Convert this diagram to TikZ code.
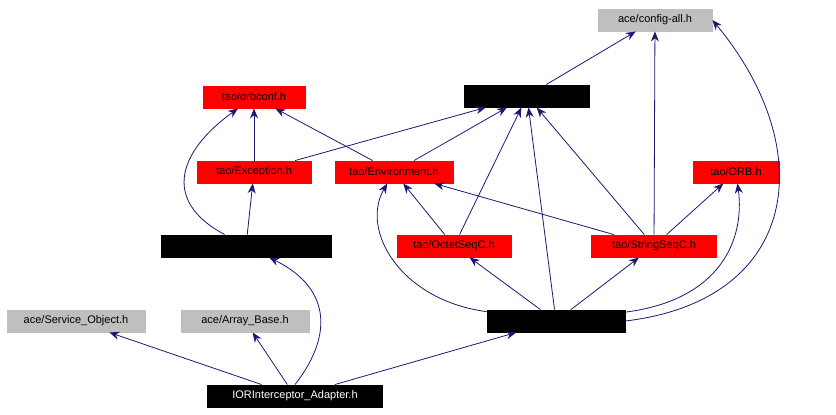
\documentclass[tikz,border=0pt]{standalone}
\usepackage{fontspec}
\setmainfont{Liberation Sans}
\usetikzlibrary{arrows.meta}
\definecolor{edgeblue}{HTML}{191970}
\definecolor{boxgray}{HTML}{BFBFBF}
\definecolor{boxred}{rgb}{1,0,0}
\tikzset{
  box/.style={draw, rectangle, inner sep=0pt, line width=0.9pt, minimum height=22pt, font=\fontsize{11}{13}\selectfont, fill=white},
  redbox/.style={box, color=boxred, draw=boxred, text=black},
  blackbox/.style={box, color=black, draw=black, text=black},
  graybox/.style={box, color=boxgray, draw=boxgray, text=black},
  dep/.style={draw=edgeblue, color=edgeblue, line width=0.8pt, -{Stealth[length=10pt,width=8pt]}}
}
\begin{document}
\begin{tikzpicture}[x=1pt,y=-1pt]
\useasboundingbox (0,0) rectangle (836,415);
\node[graybox, minimum width=114pt] (cfg) at (655,20) {ace/config-all.h};
\node[blackbox, minimum width=125pt] (tao) at (527,96) {tao/TAO\_Export.h};
\node[redbox, minimum width=102pt] (orbconf) at (254,97) {tao/orbconf.h};
\node[redbox, minimum width=114pt] (exc) at (254,172) {tao/Exception.h};
\node[redbox, minimum width=118pt] (env) at (394,172) {tao/Environment.h};
\node[redbox, minimum width=86pt] (orb) at (736,172) {tao/ORB.h};
\node[blackbox, minimum width=170pt] (sysexc) at (246,246) {tao/SystemException.h};
\node[redbox, minimum width=114pt] (octet) at (454,246) {tao/OctetSeqC.h};
\node[redbox, minimum width=125pt] (string) at (654,246) {tao/StringSeqC.h};
\node[graybox, minimum width=138pt] (svc) at (76,321) {ace/Service\_Object.h};
\node[graybox, minimum width=128pt] (arr) at (245,321) {ace/Array\_Base.h};
\node[blackbox, minimum width=138pt] (pif) at (556,321) {tao/PI\_ForwardC.h};
\node[box, fill=black, text=white, minimum width=175pt] (ior) at (295,396) {IORInterceptor\_Adapter.h};

% include edges
\path[dep] (ior) -- (svc);
\path[dep] (ior) -- (arr);
\path[dep] (ior.north) .. controls (330,340) and (335,290) .. (sysexc);
\path[dep] (ior) -- (pif);
\path[dep] (sysexc) .. controls (160,200) and (180,150) .. (orbconf);
\path[dep] (sysexc) -- (exc);
\path[dep] (exc) -- (orbconf);
\path[dep] (exc) -- (tao);
\path[dep] (env) -- (orbconf);
\path[dep] (env) -- (tao);
\path[dep] (tao) -- (cfg);
\path[dep] (octet) -- (env);
\path[dep] (octet) -- (tao);
\path[dep] (string) -- (env);
\path[dep] (string) -- (tao);
\path[dep] (string) -- (cfg);
\path[dep] (string) -- (orb);
\path[dep] (pif) -- (octet);
\path[dep] (pif) -- (string);
\path[dep] (pif) -- (tao);
\path[dep] (pif) .. controls (400,300) and (360,230) .. (env);
\path[dep] (pif) .. controls (720,300) and (745,240) .. (orb);
\path[dep] (pif.east) .. controls (800,300) and (820,150) .. (cfg.east);
\end{tikzpicture}
\end{document}
